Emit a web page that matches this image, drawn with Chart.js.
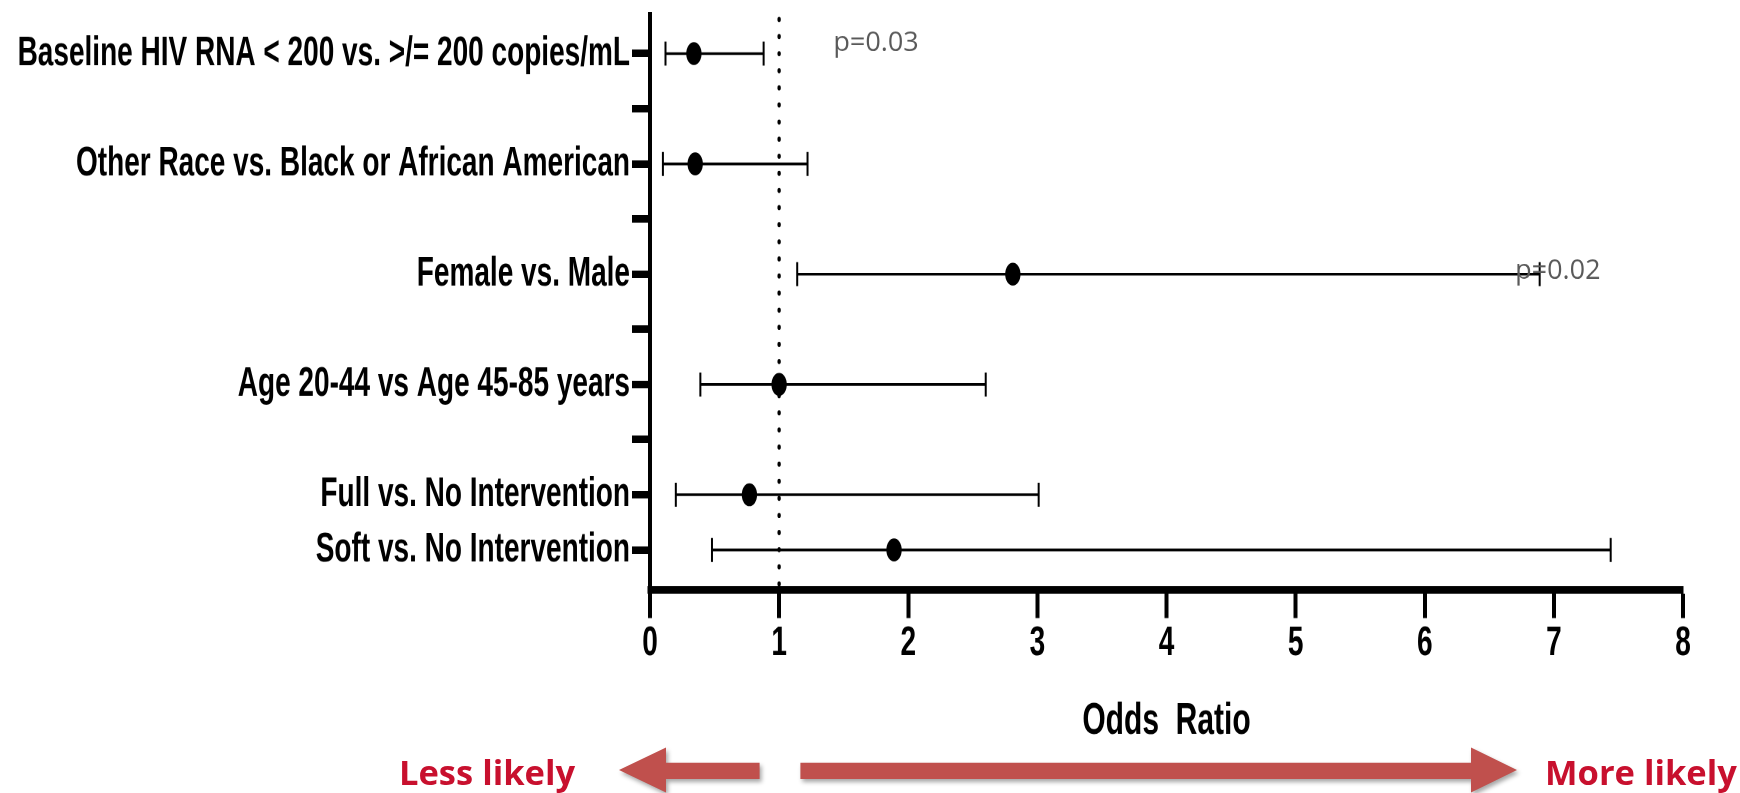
<!DOCTYPE html>
<html>
<head>
<meta charset="utf-8">
<script src="https://cdn.jsdelivr.net/npm/chart.js@4"></script>
<style>
  html, body { margin: 0; padding: 0; background: #ffffff; }
  body { width: 1740px; height: 793px; overflow: hidden; position: relative; }
  #wrap { position: absolute; left: 0; top: 0; width: 1740px; height: 529px;
          transform-origin: 0 0; transform: scaleY(1.4991); }
  #ov { position: absolute; left: 0; top: 0; pointer-events: none; }
  #ov .arrow { fill: #C0504D; filter: drop-shadow(2px 3px 2px rgba(0,0,0,0.35)); }
  #ov text { font-family: "Open Sans", sans-serif; font-weight: bold; font-size: 34.5px; fill: #C8102E; }
</style>
</head>
<body>
<div id="wrap"><canvas id="c" width="1740" height="529"></canvas></div>
<svg id="ov" width="1740" height="793" xmlns="http://www.w3.org/2000/svg">
  <polygon class="arrow" points="619,770 666,747.5 666,762.7 759.6,762.7 759.6,779 666,779 666,792.5"/>
  <polygon class="arrow" points="800.4,762.7 1471,762.7 1471,747.5 1517,770 1471,792.5 1471,779 800.4,779"/>
  <text x="399" y="785">Less likely</text>
  <text x="1545" y="785">More likely</text>
</svg>
<script>
// ---- data ----
const categories = [
  'Baseline HIV RNA < 200 vs. >/= 200 copies/mL',
  'Other Race vs. Black or African American',
  'Female vs. Male',
  'Age 20-44 vs Age 45-85 years',
  'Full vs. No Intervention',
  'Soft vs. No Intervention'
];
const oddsRatio = [0.34, 0.35, 2.81, 1.00, 0.77, 1.89];
const ciLow     = [0.12, 0.10, 1.14, 0.39, 0.20, 0.48];
const ciHigh    = [0.88, 1.22, 6.89, 2.60, 3.01, 7.44];
const pValueText = ['p=0.03', '', 'p=0.02', '', '', ''];
const pValueX    = [1.42, null, 6.70, null, null, null];
const yTickLabels = [
  'Baseline HIV RNA < 200 vs. >/= 200 copies/mL', '',
  'Other Race vs. Black or African American', '',
  'Female vs. Male', '',
  'Age 20-44 vs Age 45-85 years', '',
  'Full vs. No Intervention',
  'Soft vs. No Intervention'
];
const xTickValues = [0, 1, 2, 3, 4, 5, 6, 7, 8];
const referenceOR = 1;

// ---- chart ----
const K = 793 / 529;          // vertical stretch of the original figure
const FONT = '"Liberation Sans", Arial, sans-serif';
const Y_MIN = 0.30, Y_MAX = 10.72;
const rowOf = c => yTickLabels.indexOf(c) + 1;

const whiskers = categories.map((c, i) => ({
  label: 'ci' + i,
  data: [{x: ciLow[i], y: rowOf(c)}, {x: ciHigh[i], y: rowOf(c)}],
  showLine: true, borderColor: '#000', borderWidth: 1.8,
  pointRadius: 0, order: 3
}));

const caps = {
  label: 'caps',
  data: categories.flatMap((c, i) => [{x: ciLow[i], y: rowOf(c)}, {x: ciHigh[i], y: rowOf(c)}]),
  showLine: false, pointStyle: 'line', rotation: 90, pointRadius: 8,
  borderColor: '#000', pointBorderWidth: 2, order: 2
};

const points = {
  label: 'OR',
  data: categories.map((c, i) => ({x: oddsRatio[i], y: rowOf(c)})),
  showLine: false, pointStyle: 'circle', pointRadius: 7.65,
  backgroundColor: '#000', borderColor: '#000', pointBorderWidth: 0, order: 0
};

const refLine = {
  label: 'ref',
  data: [{x: referenceOR, y: 0.38}, {x: referenceOR, y: Y_MAX}],
  showLine: true, borderColor: '#000', borderWidth: 3.4,
  borderDash: [0.01, 11.4], borderCapStyle: 'round',
  pointRadius: 0, order: 4
};

const pValuePlugin = {
  id: 'pvalues',
  afterDatasetsDraw(chart) {
    const {ctx, scales: {x, y}} = chart;
    const yOff = [-0.19, 0, -0.05, 0, 0, 0];
    pValueText.forEach((t, i) => {
      if (!t) return;
      const px = x.getPixelForValue(pValueX[i]);
      const py = y.getPixelForValue(rowOf(categories[i]) + yOff[i]);
      ctx.save();
      ctx.translate(px, py);
      ctx.scale(1, 1 / K);
      ctx.font = '27px "Open Sans", sans-serif';
      ctx.fillStyle = '#595959';
      ctx.textAlign = 'left';
      ctx.textBaseline = 'middle';
      ctx.fillText(t, 0, 0);
      ctx.restore();
    });
  }
};

new Chart(document.getElementById('c'), {
  type: 'scatter',
  data: { datasets: [points, caps, ...whiskers, refLine] },
  options: {
    responsive: false,
    devicePixelRatio: 2,
    animation: false,
    layout: { padding: { left: 0, right: 57, top: 1.8, bottom: 0 } },
    plugins: { legend: { display: false }, tooltip: { enabled: false } },
    scales: {
      x: {
        type: 'linear', min: 0, max: 8,
        afterBuildTicks: s => { s.ticks = xTickValues.map(v => ({value: v})); },
        afterFit: s => { s.height = 135.7; s.paddingLeft = 0; s.paddingRight = 0; },
        ticks: { font: {family: FONT, size: 28, weight: 'bold'}, color: '#000', padding: 0,
                 maxRotation: 0, autoSkip: false },
        grid: { drawOnChartArea: false, drawTicks: true, tickLength: 19, tickWidth: 4, tickColor: '#000' },
        border: { display: true, color: '#000', width: 5 },
        title: { display: true, text: 'Odds  Ratio', color: '#000',
                 font: {family: FONT, size: 30, weight: 'bold'}, padding: {top: 0, bottom: 30} }
      },
      y: {
        type: 'linear', min: Y_MIN, max: Y_MAX, reverse: true,
        afterBuildTicks: s => { s.ticks = yTickLabels.map((_, i) => ({value: i + 1})); },
        afterFit: s => { s.width = 650; s.paddingTop = 0; s.paddingBottom = 0; },
        ticks: { callback: v => yTickLabels[Math.round(v) - 1] || '',
                 font: {family: FONT, size: 28, weight: 'bold'}, color: '#000', padding: 2, autoSkip: false },
        grid: { drawOnChartArea: false, drawTicks: true, tickLength: 18, tickWidth: 5, tickColor: '#000' },
        border: { display: true, color: '#000', width: 4 }
      }
    }
  },
  plugins: [pValuePlugin]
});
</script>
</body>
</html>
